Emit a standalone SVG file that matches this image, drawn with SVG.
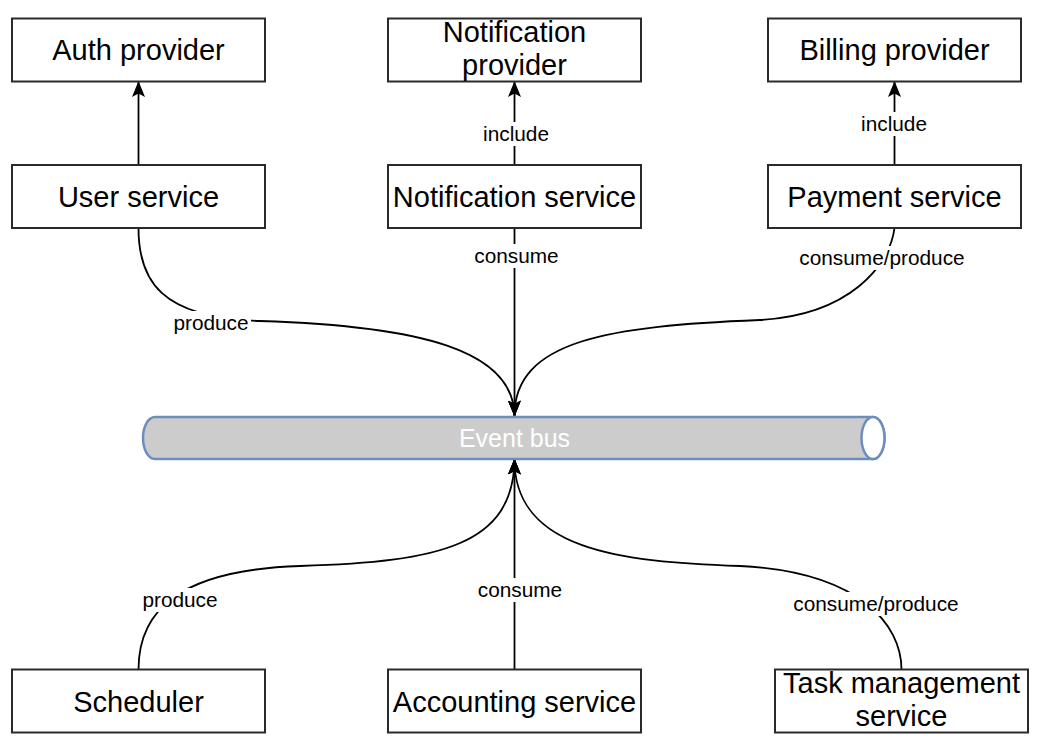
<svg xmlns="http://www.w3.org/2000/svg" width="1048" height="756" viewBox="0 0 1048 756">
<defs>
<style>
.box{fill:#ffffff;stroke:#2a2a2a;stroke-width:2}
.t{font-family:"Liberation Sans",Arial,Helvetica,sans-serif;font-size:29px;fill:#000000;text-anchor:middle}
.edge{fill:none;stroke:#000000;stroke-width:1.8;marker-end:url(#arr)}
.lbl{font-family:"Liberation Sans",Arial,Helvetica,sans-serif;font-size:20.8px;fill:#000000;text-anchor:middle}
.lb{fill:#ffffff;stroke:none}
</style>
<marker id="arr" markerUnits="userSpaceOnUse" markerWidth="16" markerHeight="13" viewBox="0 0 16 13" refX="15.5" refY="6.5" orient="auto">
<path d="M0,0 L16,6.5 L0,13 L3.5,6.5 Z" fill="#000000"/>
</marker>
</defs>
<rect width="1048" height="756" fill="#ffffff"/>

<g id="connectors">
<path class="edge" d="M138.5,165 L138.5,81.5"/>
<path class="edge" d="M514.5,165 L514.5,81.5"/>
<path class="edge" d="M894.5,165 L894.5,81.5"/>
<path class="edge" d="M138.5,228 C138.5,280 160,318 260,321 C420,326 514,350 514.5,416"/>
<path class="edge" d="M514.5,228 L514.5,416"/>
<path class="edge" d="M894.5,228 C890,265 850,315 760,320 C610,326 514,340 514.5,416"/>
<path class="edge" d="M138.5,669.5 C138.5,610 180,570 300,566 C440,562 514,545 514.5,459"/>
<path class="edge" d="M514.5,669.5 L514.5,459"/>
<path class="edge" d="M901.5,669.5 C901.5,625 860,572 740,566 C620,562 514,550 514.5,459"/>
<g id="edge-labels">
<rect class="lb" x="481" y="122" width="70" height="24"/>
<text class="lbl" x="516" y="141">include</text>
<rect class="lb" x="859" y="112" width="70" height="24"/>
<text class="lbl" x="894" y="131">include</text>
<rect class="lb" x="472" y="244" width="89" height="24"/>
<text class="lbl" x="516.5" y="263">consume</text>
<rect class="lb" x="797" y="246" width="170" height="24"/>
<text class="lbl" x="882" y="265">consume/produce</text>
<rect class="lb" x="172" y="311" width="79" height="24"/>
<text class="lbl" x="211" y="330">produce</text>
<rect class="lb" x="141" y="588" width="79" height="24"/>
<text class="lbl" x="180" y="607">produce</text>
<rect class="lb" x="476" y="578" width="89" height="24"/>
<text class="lbl" x="520" y="597">consume</text>
<rect class="lb" x="791" y="592" width="170" height="24"/>
<text class="lbl" x="876" y="611">consume/produce</text>
</g>
</g>

<g id="event-bus">
<path d="M155,417 L873,417 A11.5,21 0 0 1 873,459 L155,459 A12,21 0 0 1 155,417 Z" fill="#cccccc" stroke="#6c8ebf" stroke-width="2.5"/>
<ellipse cx="873" cy="438" rx="11.5" ry="21" fill="#ffffff" stroke="#6c8ebf" stroke-width="2.5"/>
<text x="514.5" y="447" font-family="Liberation Sans, Arial, Helvetica, sans-serif" font-size="25" fill="#ffffff" text-anchor="middle">Event bus</text>
</g>

<g id="auth-provider">
<rect class="box" x="12" y="18.5" width="253" height="63"/>
<text class="t" x="138.5" y="60.4">Auth provider</text>
</g>
<g id="notification-provider">
<rect class="box" x="388" y="18.5" width="253" height="63"/>
<text class="t" x="514.5" y="42">Notification</text>
<text class="t" x="514.5" y="75">provider</text>
</g>
<g id="billing-provider">
<rect class="box" x="768" y="18.5" width="253" height="63"/>
<text class="t" x="894.5" y="60.4">Billing provider</text>
</g>
<g id="user-service">
<rect class="box" x="12" y="165" width="253" height="63"/>
<text class="t" x="138.5" y="207">User service</text>
</g>
<g id="notification-service">
<rect class="box" x="388" y="165" width="253" height="63"/>
<text class="t" x="514.5" y="207">Notification service</text>
</g>
<g id="payment-service">
<rect class="box" x="768" y="165" width="253" height="63"/>
<text class="t" x="894.5" y="207">Payment service</text>
</g>
<g id="scheduler">
<rect class="box" x="12" y="669.5" width="253" height="63"/>
<text class="t" x="138.5" y="711.5">Scheduler</text>
</g>
<g id="accounting-service">
<rect class="box" x="388" y="669.5" width="253" height="63"/>
<text class="t" x="514.5" y="711.5">Accounting service</text>
</g>
<g id="task-management-service">
<rect class="box" x="775" y="669.5" width="253" height="63"/>
<text class="t" x="901.5" y="693">Task management</text>
<text class="t" x="901.5" y="726">service</text>
</g>
</svg>
